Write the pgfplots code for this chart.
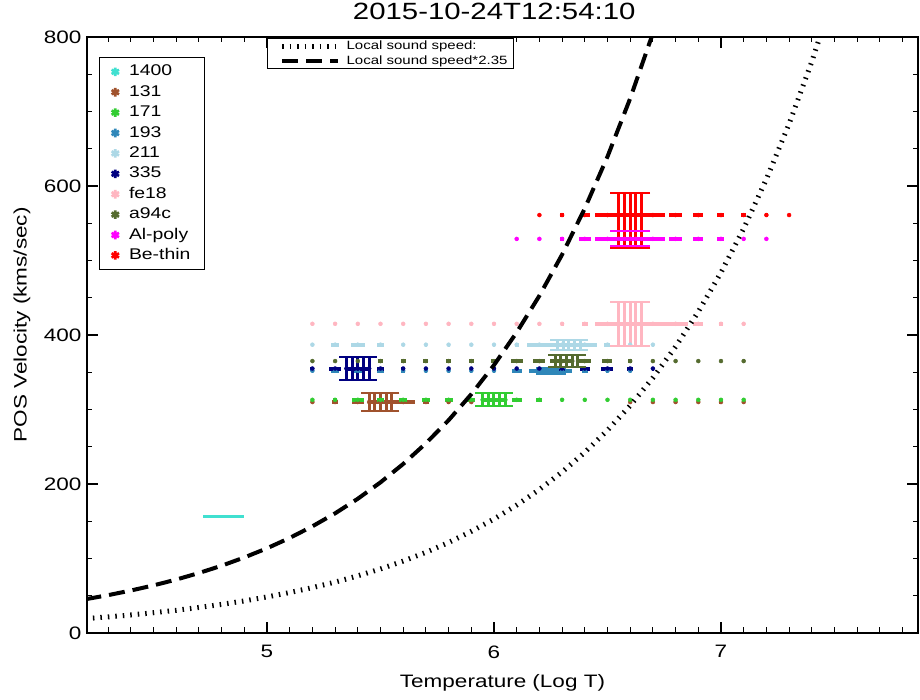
\documentclass[border=0pt]{standalone}
\usepackage{fontspec}
\setmainfont{Liberation Sans}[FakeStretch=1.25]
\usepackage{pgfplots}
\pgfplotsset{compat=1.18}
\usepackage{pgfplotstable}

\definecolor{c1400}{RGB}{64,224,208}
\definecolor{c131}{RGB}{160,82,45}
\definecolor{c171}{RGB}{50,205,50}
\definecolor{c193}{RGB}{47,135,185}
\definecolor{c211}{RGB}{173,216,230}
\definecolor{c335}{RGB}{0,0,128}
\definecolor{cfe18}{RGB}{255,182,193}
\definecolor{ca94c}{RGB}{85,107,47}
\definecolor{calpoly}{RGB}{255,0,255}
\definecolor{cbethin}{RGB}{255,0,0}

\newcommand\tickfont{\fontsize{18}{21}\selectfont}
\newcommand\labfont{\fontsize{18}{21}\selectfont}
\newcommand\titfont{\fontsize{23.5}{26}\selectfont}
\newcommand\legfont{\fontsize{15.5}{18}\selectfont}
\newcommand\legbfont{\fontsize{12}{14}\selectfont}

% sound speed curves (km/s) against log T
\pgfplotstableread{
x v
4.2 19.3
4.3 21.6
4.4 24.2
4.5 27.2
4.6 30.5
4.7 34.3
4.8 38.4
4.9 43.1
5.0 48.4
5.1 54.3
5.2 60.9
5.3 68.3
5.4 76.7
5.5 86.0
5.6 96.5
5.7 108.3
5.8 121.5
5.9 136.4
6.0 153.0
6.1 171.7
6.2 192.6
6.3 216.1
6.4 242.5
6.5 272.1
6.6 305.3
6.7 342.5
6.8 384.3
6.9 431.2
7.0 483.8
7.1 542.9
7.2 609.1
7.3 683.4
7.4 766.8
7.5 860.4
}\soundspeed
\pgfplotstableread{
x v
4.2 45.3
4.3 50.8
4.4 57.0
4.5 63.9
4.6 71.7
4.7 80.5
4.8 90.3
4.9 101.4
5.0 113.7
5.1 127.6
5.2 143.2
5.3 160.6
5.4 180.2
5.5 202.2
5.6 226.9
5.7 254.6
5.8 285.6
5.9 320.5
6.0 359.6
6.1 403.5
6.2 452.7
6.3 507.9
6.4 569.9
6.5 639.4
6.6 717.5
6.7 805.0
}\soundspeedx

% temperature coverage of each channel: log T, velocity, half width of dash (log T)
\pgfplotstableread{
x y w
5.2 310 0.0022
5.3 310 0.0132
5.4 310 0.0264
5.5 310 0.0529
5.6 310 0.0529
5.7 310 0.0132
5.8 310 0.0066
5.9 310 0.0022
6.6 310 0.0022
6.7 310 0.0022
6.8 310 0.0022
6.9 310 0.0022
7.0 310 0.0066
7.1 310 0.0022
}\rowA
\pgfplotstableread{
x y w
5.2 313 0.0022
5.3 313 0.0088
5.4 313 0.0264
5.5 313 0.0176
5.6 313 0.0176
5.7 313 0.0176
5.8 313 0.0176
5.9 313 0.0176
6.0 313 0.0529
6.1 313 0.0220
6.2 313 0.0132
6.3 313 0.0053
6.4 313 0.0053
6.5 313 0.0022
6.6 313 0.0022
6.7 313 0.0022
6.8 313 0.0022
6.9 313 0.0022
7.0 313 0.0022
7.1 313 0.0022
}\rowB
\pgfplotstableread{
x y w
5.2 352 0.0022
5.3 352 0.0176
5.4 352 0.0176
5.5 352 0.0176
5.6 352 0.0088
5.7 352 0.0044
5.8 352 0.0044
5.9 352 0.0044
6.0 352 0.0044
6.1 352 0.0220
6.2 352 0.0441
6.3 352 0.0441
6.4 352 0.0132
6.5 352 0.0044
6.6 352 0.0022
}\rowC
\pgfplotstableread{
x y w
5.2 387 0.0022
5.3 387 0.0176
5.4 387 0.0308
5.5 387 0.0176
5.6 387 0.0022
5.7 387 0.0022
5.8 387 0.0022
5.9 387 0.0022
6.0 387 0.0022
6.1 387 0.0088
6.2 387 0.0529
6.3 387 0.0529
6.4 387 0.0529
6.5 387 0.0132
6.6 387 0.0022
6.7 387 0.0022
}\rowD
\pgfplotstableread{
x y w
5.2 355 0.0088
5.3 355 0.0264
5.4 355 0.0529
5.5 355 0.0176
5.6 355 0.0088
5.7 355 0.0044
5.8 355 0.0044
5.9 355 0.0044
6.0 355 0.0044
6.1 355 0.0066
6.2 355 0.0088
6.3 355 0.0132
6.4 355 0.0220
6.5 355 0.0264
6.6 355 0.0132
6.7 355 0.0022
}\rowE
\pgfplotstableread{
x y w
5.2 415 0.0022
5.3 415 0.0022
5.4 415 0.0022
5.5 415 0.0022
5.6 415 0.0022
5.7 415 0.0022
5.8 415 0.0022
5.9 415 0.0022
6.0 415 0.0022
6.1 415 0.0022
6.2 415 0.0044
6.3 415 0.0066
6.4 415 0.0132
6.5 415 0.0529
6.6 415 0.0529
6.7 415 0.0529
6.8 415 0.0529
6.9 415 0.0220
7.0 415 0.0088
7.1 415 0.0022
}\rowF
\pgfplotstableread{
x y w
5.2 365 0.0022
5.3 365 0.0022
5.4 365 0.0022
5.5 365 0.0110
5.6 365 0.0110
5.7 365 0.0110
5.8 365 0.0110
5.9 365 0.0110
6.0 365 0.0132
6.1 365 0.0264
6.2 365 0.0264
6.3 365 0.0529
6.4 365 0.0264
6.5 365 0.0220
6.6 365 0.0088
6.7 365 0.0022
6.8 365 0.0022
6.9 365 0.0022
7.0 365 0.0022
7.1 365 0.0022
}\rowG
\pgfplotstableread{
x y w
6.1 529 0.0022
6.2 529 0.0022
6.3 529 0.0075
6.4 529 0.0264
6.5 529 0.0529
6.6 529 0.0529
6.7 529 0.0529
6.8 529 0.0286
6.9 529 0.0220
7.0 529 0.0154
7.1 529 0.0022
7.2 529 0.0022
}\rowH
\pgfplotstableread{
x y w
6.2 561 0.0022
6.3 561 0.0075
6.4 561 0.0220
6.5 561 0.0529
6.6 561 0.0529
6.7 561 0.0529
6.8 561 0.0286
6.9 561 0.0220
7.0 561 0.0154
7.1 561 0.0110
7.2 561 0.0057
7.3 561 0.0022
}\rowI

% velocity error bars, drawn as bundles of vertical strokes
\pgfplotstableread{
x y ep em
5.450 310 11.5 11.5
5.475 310 11.5 11.5
5.500 310 11.5 11.5
5.525 310 11.5 11.5
5.550 310 11.5 11.5
}\errA
\pgfplotstableread{
x y ep em
5.950 313 8.5 8.5
5.975 313 8.5 8.5
6.000 313 8.5 8.5
6.025 313 8.5 8.5
6.050 313 8.5 8.5
}\errB
\pgfplotstableread{
x y ep em
6.225 352 4 4
6.250 352 4 4
6.275 352 4 4
}\errC
\pgfplotstableread{
x y ep em
6.280 387 6.5 6.5
6.305 387 6.5 6.5
6.330 387 6.5 6.5
6.355 387 6.5 6.5
6.380 387 6.5 6.5
}\errD
\pgfplotstableread{
x y ep em
5.350 355 15 15
5.375 355 15 15
5.400 355 15 15
5.425 355 15 15
5.450 355 15 15
}\errE
\pgfplotstableread{
x y ep em
6.550 415 29.5 29.5
6.575 415 29.5 29.5
6.600 415 29.5 29.5
6.625 415 29.5 29.5
6.650 415 29.5 29.5
}\errF
\pgfplotstableread{
x y ep em
6.270 365 8 8
6.295 365 8 8
6.320 365 8 8
6.345 365 8 8
6.370 365 8 8
}\errG
\pgfplotstableread{
x y ep em
6.550 529 10 10
6.575 529 10 10
6.600 529 10 10
6.625 529 10 10
6.650 529 10 10
}\errH
\pgfplotstableread{
x y ep em
6.550 561 30 44
6.575 561 30 44
6.600 561 30 44
6.625 561 30 44
6.650 561 30 44
}\errI

\pgfplotsset{
  dashrow/.style={only marks, mark=none, forget plot, color=#1,
    error bars/.cd, x dir=both, x explicit, error mark=none,
    error bar style={draw=#1, line width=4pt, solid}},
  errcluster/.style={only marks, mark=none, forget plot, color=#1,
    error bars/.cd, y dir=both, y explicit, error mark=none,
    error bar style={draw=#1, line width=3pt, solid}},
  caps/.style={only marks, mark=-, forget plot, color=#1, mark size=19pt,
    mark options={line width=2pt, solid}},
  chan/.style={only marks, mark=asterisk, color=#1, mark size=4.3pt,
    mark options={line width=2.6pt, solid}},
  frame/.style={at={(0pt,0pt)}, anchor=south west,
    width=831pt, height=596pt, scale only axis,
    xmin=4.207, xmax=7.868, ymin=0, ymax=800},
}

\begin{document}
\begin{tikzpicture}
\path[use as bounding box] (-87pt,-67pt) rectangle (833pt,633pt);
\begin{axis}[frame,
  xtick={5,6,7}, ytick={0,200,400,600,800},
  minor xtick={4.3,4.4,4.5,4.6,4.7,4.8,4.9,5.1,5.2,5.3,5.4,5.5,5.6,5.7,5.8,5.9,6.1,6.2,6.3,6.4,6.5,6.6,6.7,6.8,6.9,7.1,7.2,7.3,7.4,7.5,7.6,7.7,7.8},
  minor ytick={50,100,150,250,300,350,450,500,550,650,700,750},
  tick align=inside,
  major tick length=11pt, minor tick length=5.5pt,
  axis line style={line width=1.3pt},
  every tick/.style={line width=1.1pt, black},
  /pgf/number format/assume math mode=true,
  ticklabel style={font=\tickfont},
  x tick label style={yshift=-9pt},
  y tick label style={xshift=-2pt},
  title={2015-10-24T12:54:10},
  title style={at={(0.49,1.0336)}, anchor=center, font=\titfont},
  xlabel={Temperature (Log T)},
  xlabel style={at={(axis description cs:0.5,-0.0839)}, anchor=center, font=\labfont},
  ylabel={POS Velocity (kms/sec)},
  ylabel style={at={(axis description cs:-0.0782,0.5168)}, anchor=center, font=\labfont},
  legend cell align=left,
  legend style={at={(axis description cs:0.0144,0.9664)}, anchor=north west,
    draw=black, line width=1.2pt, fill=white, font=\legfont,
    inner xsep=12pt, inner ysep=4pt, row sep=0pt,
    /tikz/every odd column/.append style={column sep=8pt},
    nodes={inner xsep=2pt, inner ysep=3.2pt, text height=11pt, text depth=3pt}},
]
% 1400
\addplot[c1400, line width=3pt, forget plot] coordinates {(4.72,157) (4.90,157)};
% 131
\addplot[dashrow=c131] table[x=x,y=y,x error=w] {\rowA};
\addplot[errcluster=c131] table[x=x,y=y,y error plus=ep,y error minus=em] {\errA};
\addplot[caps=c131] coordinates {(5.50,321.5) (5.50,298.5)};
% 171
\addplot[dashrow=c171] table[x=x,y=y,x error=w] {\rowB};
\addplot[errcluster=c171] table[x=x,y=y,y error plus=ep,y error minus=em] {\errB};
\addplot[caps=c171] coordinates {(6.00,321.5) (6.00,304.5)};
% 193
\addplot[dashrow=c193] table[x=x,y=y,x error=w] {\rowC};
\addplot[errcluster=c193] table[x=x,y=y,y error plus=ep,y error minus=em] {\errC};
\addplot[caps=c193, mark size=15pt] coordinates {(6.25,356) (6.25,348)};
% 211
\addplot[dashrow=c211] table[x=x,y=y,x error=w] {\rowD};
\addplot[errcluster=c211] table[x=x,y=y,y error plus=ep,y error minus=em] {\errD};
\addplot[caps=c211] coordinates {(6.33,393.5) (6.33,380.5)};
% 335
\addplot[dashrow=c335] table[x=x,y=y,x error=w] {\rowE};
\addplot[errcluster=c335] table[x=x,y=y,y error plus=ep,y error minus=em] {\errE};
\addplot[caps=c335] coordinates {(5.40,370) (5.40,340)};
% fe18
\addplot[dashrow=cfe18] table[x=x,y=y,x error=w] {\rowF};
\addplot[errcluster=cfe18] table[x=x,y=y,y error plus=ep,y error minus=em] {\errF};
\addplot[caps=cfe18, mark size=20pt] coordinates {(6.60,444.5) (6.60,385.5)};
% a94c
\addplot[dashrow=ca94c] table[x=x,y=y,x error=w] {\rowG};
\addplot[errcluster=ca94c] table[x=x,y=y,y error plus=ep,y error minus=em] {\errG};
\addplot[caps=ca94c] coordinates {(6.32,373) (6.32,357)};
% Al-poly
\addplot[dashrow=calpoly] table[x=x,y=y,x error=w] {\rowH};
\addplot[errcluster=calpoly] table[x=x,y=y,y error plus=ep,y error minus=em] {\errH};
\addplot[caps=calpoly, mark size=20pt] coordinates {(6.60,539) (6.60,519)};
% Be-thin
\addplot[dashrow=cbethin] table[x=x,y=y,x error=w] {\rowI};
\addplot[errcluster=cbethin] table[x=x,y=y,y error plus=ep,y error minus=em] {\errI};
\addplot[caps=cbethin, mark size=20pt] coordinates {(6.60,591) (6.60,517)};

\addlegendimage{chan=c1400}\addlegendentry{1400}
\addlegendimage{chan=c131}\addlegendentry{131}
\addlegendimage{chan=c171}\addlegendentry{171}
\addlegendimage{chan=c193}\addlegendentry{193}
\addlegendimage{chan=c211}\addlegendentry{211}
\addlegendimage{chan=c335}\addlegendentry{335}
\addlegendimage{chan=cfe18}\addlegendentry{fe18}
\addlegendimage{chan=ca94c}\addlegendentry{a94c}
\addlegendimage{chan=calpoly}\addlegendentry{Al-poly}
\addlegendimage{chan=cbethin}\addlegendentry{Be-thin}
\end{axis}

\begin{axis}[frame, hide axis,
  legend cell align=left,
  legend image code/.code={\path (0pt,0pt); \draw[#1] (8pt,0pt) -- (64pt,0pt);},
  legend style={at={(axis description cs:0.2166,0.9983)}, anchor=north west,
    draw=black, line width=1.2pt, fill=white, font=\legbfont,
    inner xsep=4pt, inner ysep=0pt, row sep=0pt,
    /tikz/every odd column/.append style={column sep=4pt},
    nodes={inner xsep=2pt, inner ysep=2pt, text height=8.5pt, text depth=2.5pt}},
]
\addplot[black, line width=5pt, dash pattern=on 1.5pt off 6pt] table[x=x,y=v] {\soundspeed};
\addlegendentry{Local sound speed:}
\addplot[black, line width=4pt, dash pattern=on 16pt off 8pt] table[x=x,y=v] {\soundspeedx};
\addlegendentry{Local sound speed*2.35}
\end{axis}
\end{tikzpicture}
\end{document}
